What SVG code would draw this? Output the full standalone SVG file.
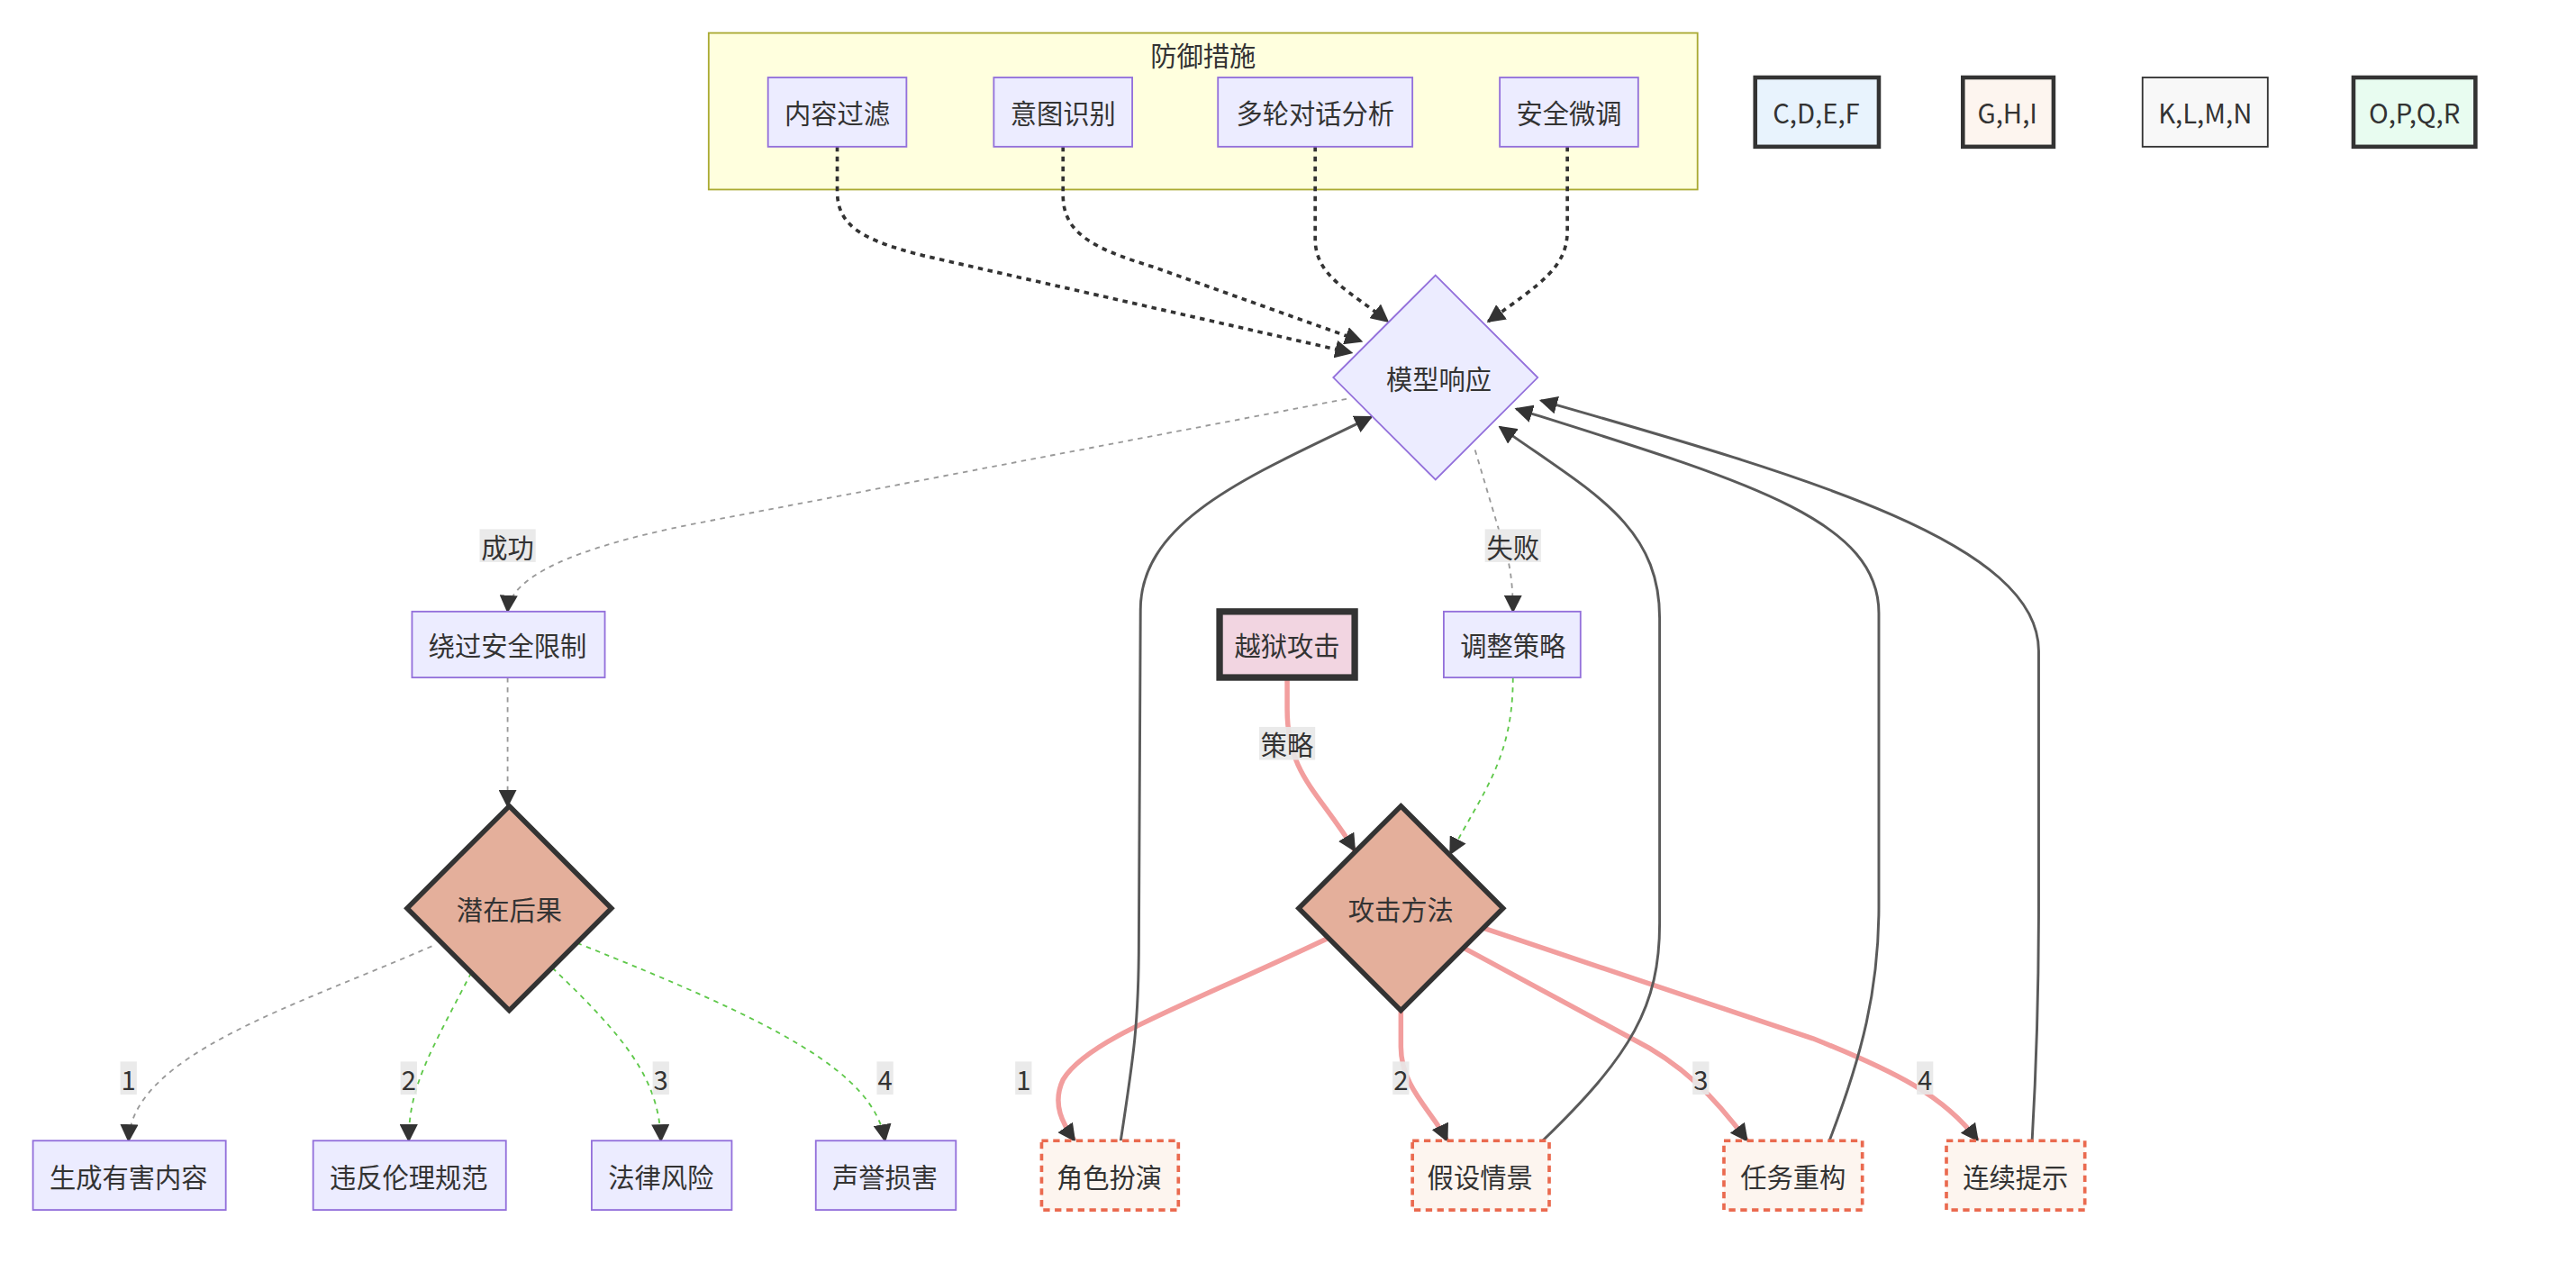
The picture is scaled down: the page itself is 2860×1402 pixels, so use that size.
<svg xmlns="http://www.w3.org/2000/svg" width="2860" height="1402" viewBox="0 0 2860 1402">
<defs>
<marker id="arr" viewBox="0 0 10 10" refX="9" refY="5" markerUnits="userSpaceOnUse" markerWidth="11" markerHeight="11" orient="auto">
<path d="M0,0 L10,5 L0,10 z" fill="#333"/>
</marker>
</defs>
<style>
text{font-family:"Noto Sans CJK SC","Liberation Sans",sans-serif;font-size:16px;fill:#333;text-anchor:middle;dominant-baseline:central}
.n{fill:#ECECFF;stroke:#9370DB;stroke-width:1}
.cons{fill:#e4af9b;stroke:#333;stroke-width:3}
.tech{fill:#fdf5ef;stroke:#ea6a4f;stroke-width:2;stroke-dasharray:4 3}
.lab{fill:#e8e8e8;opacity:0.9}
.dot{fill:none;stroke:#333;stroke-width:2;stroke-dasharray:3 3}
.gray{fill:none;stroke:#999;stroke-width:1;stroke-dasharray:3 3}
.green{fill:none;stroke:#5fc84a;stroke-width:1;stroke-dasharray:3 3}
.pink{fill:none;stroke:#f29e9e;stroke-width:3}
.ret{fill:none;stroke:#5a5a5a;stroke-width:1.6}
</style>
<rect width="2860" height="1402" fill="#ffffff"/>
<g transform="scale(1.8298)">
<g id="defense">
<rect x="430" y="20" width="600" height="95" fill="#ffffde" stroke="#aaaa33" stroke-width="1"/>
<text x="730" y="33">防御措施</text>
</g>
<g id="connectors">
<path class="dot" d="M508,89 L508,116 C508,138 525,146 560,155 L820,214" marker-end="url(#arr)"/>
<path class="dot" d="M645,89 L645,118 C645,140 660,150 700,162 L826,207" marker-end="url(#arr)"/>
<path class="dot" d="M798,89 L798,145 C798,168 820,177 842,195" marker-end="url(#arr)"/>
<path class="dot" d="M951,89 L951,140 C951,162 935,172 903,195" marker-end="url(#arr)"/>
<path class="gray" d="M817,242 L420,318 Q310,340 308,371" marker-end="url(#arr)"/>
<path class="gray" d="M895,273 L912,330 Q918,345 918,371" marker-end="url(#arr)"/>
<path class="gray" d="M308,411 L308,489" marker-end="url(#arr)"/>
<path class="pink" d="M781,411 L781,430 C781,470 800,480 822,516" marker-end="url(#arr)"/>
<path class="green" d="M918,411 C918,460 900,480 880,518" marker-end="url(#arr)"/>
<path class="gray" d="M262,574 C180,610 80,640 78,692" marker-end="url(#arr)"/>
<path class="green" d="M286,590 C260,640 248,660 248,692" marker-end="url(#arr)"/>
<path class="green" d="M335,587 C380,630 400,655 401,692" marker-end="url(#arr)"/>
<path class="green" d="M350,572 C470,620 530,650 537,692" marker-end="url(#arr)"/>
<path class="pink" d="M806,569 C720,610 660,630 645,655 C638,670 645,682 652,692" marker-end="url(#arr)"/>
<path class="pink" d="M850,613 L850,635 C850,660 870,675 878,692" marker-end="url(#arr)"/>
<path class="pink" d="M888,575 L990,630 C1020,645 1040,665 1060,692" marker-end="url(#arr)"/>
<path class="pink" d="M900,563 L1100,630 C1150,650 1180,665 1200,692" marker-end="url(#arr)"/>
<path class="ret" d="M680,692 C688,640 691,620 691,570 L692,370 C692,315 760,288 832,253" marker-end="url(#arr)"/>
<path class="ret" d="M936,692 C990,640 1007,610 1007,560 L1007,375 C1007,318 965,298 910,259" marker-end="url(#arr)"/>
<path class="ret" d="M1110,692 C1130,640 1140,600 1140,550 L1140,372 C1140,315 1060,292 920,248" marker-end="url(#arr)"/>
<path class="ret" d="M1233,692 C1236,640 1237,600 1237,550 L1237,395 C1237,330 1100,290 935,243" marker-end="url(#arr)"/>
<rect class="lab" x="291" y="321" width="34" height="20"/><text x="308" y="331">成功</text>
<rect class="lab" x="901" y="321" width="34" height="20"/><text x="918" y="331">失败</text>
<rect class="lab" x="764" y="441" width="34" height="20"/><text x="781" y="451">策略</text>
<rect class="lab" x="73" y="644" width="10" height="20"/><text x="78" y="654">1</text>
<rect class="lab" x="243" y="644" width="10" height="20"/><text x="248" y="654">2</text>
<rect class="lab" x="396" y="644" width="10" height="20"/><text x="401" y="654">3</text>
<rect class="lab" x="532" y="644" width="10" height="20"/><text x="537" y="654">4</text>
<rect class="lab" x="616" y="644" width="10" height="20"/><text x="621" y="654">1</text>
<rect class="lab" x="845" y="644" width="10" height="20"/><text x="850" y="654">2</text>
<rect class="lab" x="1027" y="644" width="10" height="20"/><text x="1032" y="654">3</text>
<rect class="lab" x="1163" y="644" width="10" height="20"/><text x="1168" y="654">4</text>
</g>
<g id="n-filter"><rect class="n" x="466" y="47" width="84" height="42"/><text x="508" y="68">内容过滤</text></g>
<g id="n-intent"><rect class="n" x="603" y="47" width="84" height="42"/><text x="645" y="68">意图识别</text></g>
<g id="n-multi"><rect class="n" x="739" y="47" width="118" height="42"/><text x="798" y="68">多轮对话分析</text></g>
<g id="n-tune"><rect class="n" x="910" y="47" width="84" height="42"/><text x="952" y="68">安全微调</text></g>
<g id="legend-cdef"><rect x="1065" y="47" width="75" height="42" fill="#e8f3fd" stroke="#333" stroke-width="2.5"/><text x="1102" y="68">C,D,E,F</text></g>
<g id="legend-ghi"><rect x="1191" y="47" width="55" height="42" fill="#fdf5ef" stroke="#333" stroke-width="2.5"/><text x="1218" y="68">G,H,I</text></g>
<g id="legend-klmn"><rect x="1300" y="47" width="76" height="42" fill="#f8f8f8" stroke="#333" stroke-width="1"/><text x="1338" y="68">K,L,M,N</text></g>
<g id="legend-opqr"><rect x="1428" y="47" width="74" height="42" fill="#e8fcf0" stroke="#333" stroke-width="2.5"/><text x="1465" y="68">O,P,Q,R</text></g>
<g id="n-response"><polygon class="n" points="871,167 933,229 871,291 809,229"/><text x="873" y="229">模型响应</text></g>
<g id="n-bypass"><rect class="n" x="250" y="371" width="117" height="40"/><text x="308" y="391">绕过安全限制</text></g>
<g id="n-jailbreak"><rect x="740" y="371" width="82" height="40" fill="#f2d5e1" stroke="#333" stroke-width="4"/><text x="781" y="391">越狱攻击</text></g>
<g id="n-adjust"><rect class="n" x="876" y="371" width="83" height="40"/><text x="918" y="391">调整策略</text></g>
<g id="n-consequence"><polygon class="cons" points="309,489 371,551 309,613 247,551"/><text x="309" y="551">潜在后果</text></g>
<g id="n-method"><polygon class="cons" points="850,489 912,551 850,613 788,551"/><text x="850" y="551">攻击方法</text></g>
<g id="n-harm"><rect class="n" x="20" y="692" width="117" height="42"/><text x="78" y="713">生成有害内容</text></g>
<g id="n-ethic"><rect class="n" x="190" y="692" width="117" height="42"/><text x="248" y="713">违反伦理规范</text></g>
<g id="n-legal"><rect class="n" x="359" y="692" width="85" height="42"/><text x="401" y="713">法律风险</text></g>
<g id="n-repute"><rect class="n" x="495" y="692" width="85" height="42"/><text x="537" y="713">声誉损害</text></g>
<g id="n-role"><rect class="tech" x="632" y="692" width="83" height="42"/><text x="673" y="713">角色扮演</text></g>
<g id="n-hypo"><rect class="tech" x="857" y="692" width="83" height="42"/><text x="898" y="713">假设情景</text></g>
<g id="n-task"><rect class="tech" x="1046" y="692" width="84" height="42"/><text x="1088" y="713">任务重构</text></g>
<g id="n-cont"><rect class="tech" x="1181" y="692" width="84" height="42"/><text x="1223" y="713">连续提示</text></g>
</g>
</svg>
